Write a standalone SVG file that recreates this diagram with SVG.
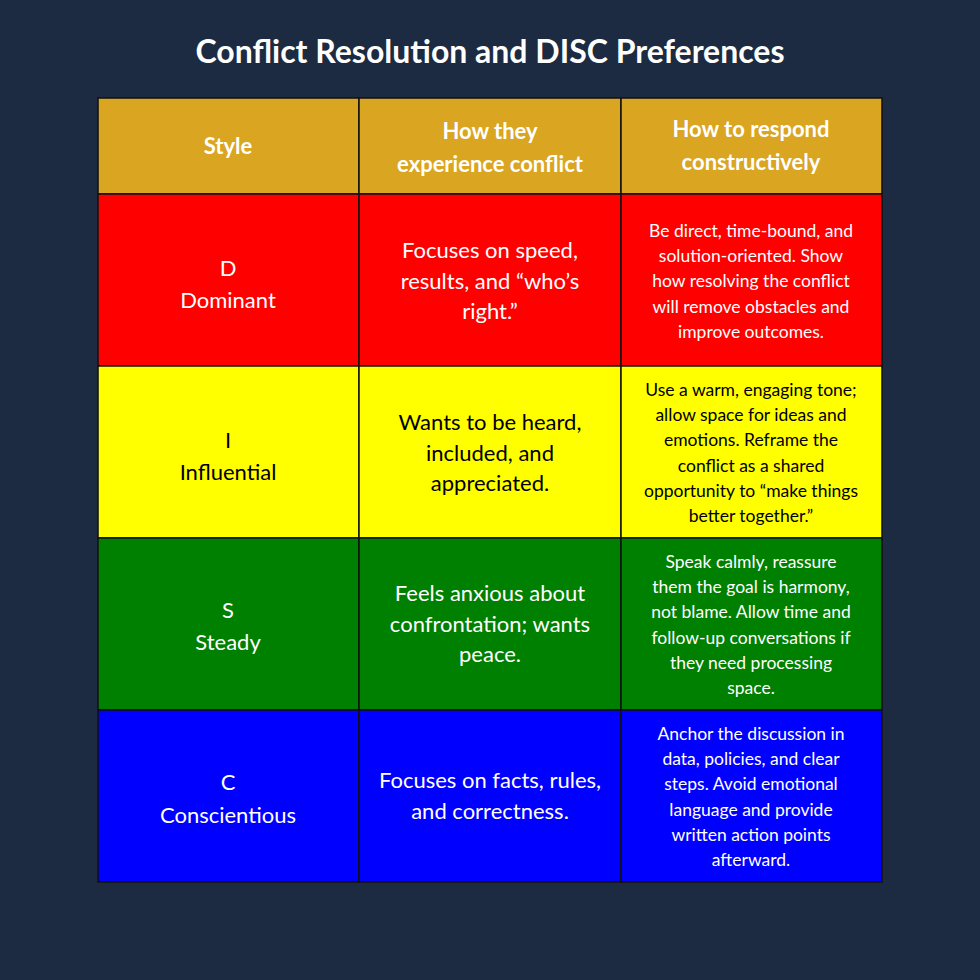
<svg xmlns="http://www.w3.org/2000/svg" width="980" height="980" viewBox="0 0 980 980">
<style>
.c{stroke:#111;stroke-width:1.5}
text{font-family:Lato,"Open Sans",sans-serif;text-anchor:middle;fill:#fff}
.h{font-weight:bold;font-size:22px}
.a{font-size:22px}
.b{font-size:17.5px}
.k{fill:#000}
</style>
<rect width="980" height="980" fill="#1c2b41"/>
<text x="490" y="63" font-size="32" font-weight="bold">Conflict Resolution and DISC Preferences</text>
<g id="header">
<rect class="c" x="98" y="98" width="261" height="96" fill="#daa520"/>
<rect class="c" x="359" y="98" width="262" height="96" fill="#daa520"/>
<rect class="c" x="621" y="98" width="261" height="96" fill="#daa520"/>
<text class="h" x="228" y="154">Style</text>
<text class="h" x="490" y="139">How they</text>
<text class="h" x="490" y="172">experience conflict</text>
<text class="h" x="751" y="137">How to respond</text>
<text class="h" x="751" y="170">constructively</text>
</g>
<g id="rowD">
<rect class="c" x="98" y="194" width="261" height="172" fill="#ff0000"/>
<rect class="c" x="359" y="194" width="262" height="172" fill="#ff0000"/>
<rect class="c" x="621" y="194" width="261" height="172" fill="#ff0000"/>
<text class="a" x="228" y="276">D</text><text class="a" x="228" y="308">Dominant</text>
<text class="a" x="490" y="258">Focuses on speed,</text><text class="a" x="490" y="289">results, and “who’s</text><text class="a" x="490" y="319">right.”</text>
<text class="b" x="751" y="237">Be direct, time-bound, and</text><text class="b" x="751" y="262">solution-oriented. Show</text><text class="b" x="751" y="287">how resolving the conflict</text><text class="b" x="751" y="313">will remove obstacles and</text><text class="b" x="751" y="338">improve outcomes.</text>
</g>
<g id="rowI">
<rect class="c" x="98" y="366" width="261" height="172" fill="#ffff00"/>
<rect class="c" x="359" y="366" width="262" height="172" fill="#ffff00"/>
<rect class="c" x="621" y="366" width="261" height="172" fill="#ffff00"/>
<text class="a k" x="228" y="448">I</text><text class="a k" x="228" y="480">Influential</text>
<text class="a k" x="490" y="430">Wants to be heard,</text><text class="a k" x="490" y="461">included, and</text><text class="a k" x="490" y="491">appreciated.</text>
<text class="b k" x="751" y="396">Use a warm, engaging tone;</text><text class="b k" x="751" y="421">allow space for ideas and</text><text class="b k" x="751" y="446">emotions. Reframe the</text><text class="b k" x="751" y="472">conflict as a shared</text><text class="b k" x="751" y="497">opportunity to “make things</text><text class="b k" x="751" y="522">better together.”</text>
</g>
<g id="rowS">
<rect class="c" x="98" y="538" width="261" height="172" fill="#008000"/>
<rect class="c" x="359" y="538" width="262" height="172" fill="#008000"/>
<rect class="c" x="621" y="538" width="261" height="172" fill="#008000"/>
<text class="a" x="228" y="618">S</text><text class="a" x="228" y="650">Steady</text>
<text class="a" x="490" y="601">Feels anxious about</text><text class="a" x="490" y="632">confrontation; wants</text><text class="a" x="490" y="662">peace.</text>
<text class="b" x="751" y="568">Speak calmly, reassure</text><text class="b" x="751" y="593">them the goal is harmony,</text><text class="b" x="751" y="618">not blame. Allow time and</text><text class="b" x="751" y="644">follow-up conversations if</text><text class="b" x="751" y="669">they need processing</text><text class="b" x="751" y="694">space.</text>
</g>
<g id="rowC">
<rect class="c" x="98" y="710" width="261" height="172" fill="#0000ff"/>
<rect class="c" x="359" y="710" width="262" height="172" fill="#0000ff"/>
<rect class="c" x="621" y="710" width="261" height="172" fill="#0000ff"/>
<text class="a" x="228" y="790">C</text><text class="a" x="228" y="823">Conscientious</text>
<text class="a" x="490" y="788">Focuses on facts, rules,</text><text class="a" x="490" y="819">and correctness.</text>
<text class="b" x="751" y="740">Anchor the discussion in</text><text class="b" x="751" y="765">data, policies, and clear</text><text class="b" x="751" y="790">steps. Avoid emotional</text><text class="b" x="751" y="816">language and provide</text><text class="b" x="751" y="841">written action points</text><text class="b" x="751" y="866">afterward.</text>
</g>
</svg>
